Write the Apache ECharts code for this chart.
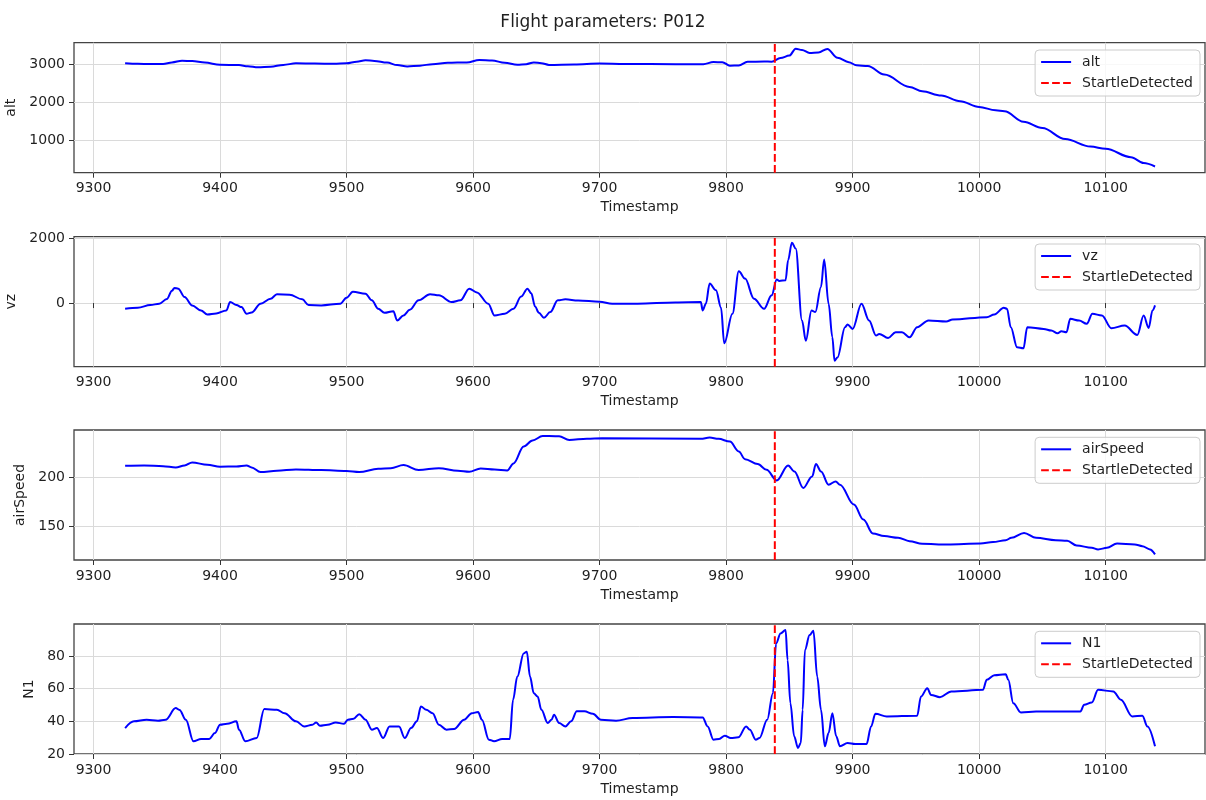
<!DOCTYPE html>
<html>
<head>
<meta charset="utf-8">
<title>Flight parameters: P012</title>
<script src="https://cdn.jsdelivr.net/npm/echarts@6/dist/echarts.min.js"></script>
<style>
  html, body { margin: 0; padding: 0; background: #ffffff; }
  #chart { width: 1206px; height: 800px; }
</style>
</head>
<body>
<div id="chart"></div>
<script>
// ---- recorded parameters (timestamp, value) ----
const altT = [9325, 9335, 9345, 9355, 9362, 9370, 9378, 9388, 9400, 9415, 9422, 9430, 9440, 9450, 9460, 9475, 9490, 9500, 9508, 9515, 9522, 9532, 9540, 9548, 9558, 9568, 9580, 9595, 9605, 9615, 9625, 9635, 9642, 9648, 9654, 9660, 9680, 9700, 9720, 9760, 9782, 9790, 9797, 9803, 9810, 9817, 9830, 9836, 9843, 9850, 9855, 9860, 9866, 9873, 9880, 9888, 9897, 9903, 9912, 9925, 9945, 9955, 9970, 9985, 10000, 10013, 10020, 10035, 10050, 10068, 10088, 10100, 10120, 10130, 10139];
const altV = [3020, 3005, 2998, 3000, 3040, 3085, 3075, 3035, 2980, 2970, 2940, 2912, 2925, 2975, 3015, 3010, 3005, 3015, 3060, 3095, 3080, 3035, 2970, 2935, 2955, 2995, 3030, 3040, 3105, 3090, 3030, 2980, 2995, 3040, 3020, 2975, 2985, 3010, 3000, 2995, 2995, 3050, 3045, 2955, 2960, 3055, 3065, 3060, 3155, 3220, 3400, 3365, 3290, 3300, 3395, 3165, 3045, 2965, 2945, 2720, 2395, 2280, 2170, 2020, 1870, 1780, 1755, 1480, 1315, 1025, 830, 770, 550, 395, 305];

const vzT = [9325, 9335, 9345, 9352, 9358, 9362, 9364, 9367, 9372, 9378, 9385, 9390, 9397, 9405, 9408, 9413, 9417, 9421, 9425, 9432, 9440, 9445, 9455, 9465, 9470, 9480, 9495, 9500, 9505, 9515, 9520, 9525, 9530, 9537, 9540, 9545, 9550, 9557, 9566, 9573, 9583, 9590, 9597, 9603, 9612, 9617, 9625, 9632, 9638, 9643, 9646, 9649, 9652, 9656, 9661, 9667, 9673, 9683, 9700, 9710, 9730, 9760, 9780, 9781.5, 9784, 9787, 9792, 9796, 9798.5, 9805, 9810, 9815, 9822, 9830, 9836, 9840, 9842, 9847, 9849, 9852, 9855, 9860, 9863, 9867.5, 9870.5, 9875, 9877.5, 9881, 9884, 9885.7, 9888, 9894, 9896, 9900, 9907, 9913, 9918.5, 9921, 9928, 9934, 9939, 9945, 9951, 9960, 9974, 9979, 10006, 10012, 10019.5, 10022, 10025, 10030, 10035, 10038, 10051, 10057, 10062, 10065, 10069, 10072, 10079, 10085, 10089.5, 10097, 10104.5, 10115, 10125, 10130, 10134, 10137, 10139];
const vzV = [-176, -145, -62, -20, 124, 380, 466, 445, 187, -72, -228, -352, -321, -228, 31, -60, -124, -330, -290, -20, 135, 270, 260, 114, -62, -72, -20, 166, 350, 290, 83, -176, -300, -250, -540, -383, -207, 83, 270, 238, 31, 83, 445, 330, -20, -383, -330, -176, 200, 445, 300, -103, -300, -456, -280, 83, 114, 80, 41, -20, -20, 20, 30, -228, -20, 601, 394, -145, -1244, -332, 984, 756, 135, -176, 238, 725, 684, 705, 1326, 1865, 1689, -539, -1161, -228, -280, 497, 1347, -21, -1057, -1782, -1679, -746, -663, -798, -21, -539, -1005, -953, -1078, -902, -902, -1057, -746, -539, -570, -508, -435, -352, -145, -176, -746, -1368, -1399, -746, -798, -850, -933, -870, -902, -487, -539, -642, -332, -383, -777, -694, -984, -383, -767, -228, -73];

const airT = [9325, 9340, 9355, 9365, 9372, 9378, 9390, 9400, 9413, 9421, 9425, 9432, 9445, 9460, 9480, 9500, 9510, 9525, 9535, 9545, 9557, 9573, 9588, 9597, 9606, 9617, 9627, 9632, 9640, 9647, 9655, 9665, 9668, 9676, 9690, 9702, 9780, 9787, 9794, 9803, 9810, 9815, 9825, 9832, 9840, 9849, 9854, 9861, 9868, 9871, 9875, 9881, 9886.6, 9890, 9901, 9908.5, 9916, 9925, 9936, 9945, 9955, 9975, 10001, 10011, 10021, 10025.5, 10035.5, 10045, 10060.5, 10069.6, 10077, 10089, 10094, 10101, 10109, 10123, 10129, 10135, 10139];
const airV = [211.5, 211.8, 211.1, 209.8, 211.8, 214.9, 212.5, 210.5, 210.8, 211.8, 209.8, 205.1, 206.4, 207.8, 207.1, 206.1, 205.1, 208.4, 209.1, 212.2, 207.1, 209.1, 206.4, 205.4, 208.8, 207.8, 206.8, 213.9, 231.1, 237.2, 241.9, 241.6, 241.5, 237.8, 239.0, 239.5, 238.9, 240.2, 238.9, 236.1, 226.0, 218.2, 213.2, 207.4, 196.6, 211.8, 205.7, 188.9, 200.7, 213.2, 205.7, 192.2, 195.6, 192.2, 172.0, 156.8, 142.6, 139.9, 138.2, 134.8, 132.1, 131.4, 132.4, 133.8, 135.8, 138.2, 143.2, 138.2, 135.8, 135.1, 130.4, 128.0, 126.4, 128.0, 132.4, 131.4, 129.7, 126.4, 121.3];

const n1T = [9325, 9332, 9342, 9351, 9357, 9365, 9368, 9373, 9379, 9385, 9391.5, 9396, 9400, 9405.6, 9413, 9415, 9420, 9429, 9435, 9445, 9451, 9460, 9466.6, 9473, 9476, 9479, 9485, 9491.5, 9498, 9501, 9505.6, 9510, 9515, 9520, 9524, 9529, 9534, 9541.5, 9546, 9551, 9555.6, 9558.8, 9563, 9568, 9573, 9579, 9585, 9593, 9599, 9604, 9607, 9612.5, 9616.6, 9623, 9629, 9631.6, 9635, 9640, 9642.5, 9645, 9648, 9651, 9654, 9659, 9662, 9664, 9668, 9673, 9677.5, 9682, 9688, 9694.7, 9701, 9713, 9726, 9758, 9781.5, 9785.4, 9790, 9794.5, 9799, 9803.6, 9809.7, 9815.8, 9818.8, 9823.4, 9826.4, 9832.5, 9837, 9839.5, 9843, 9847, 9848.6, 9850.8, 9853.8, 9856.8, 9859, 9860.5, 9862.3, 9866, 9869, 9872, 9875, 9878, 9881, 9884, 9887, 9890, 9896, 9902, 9911, 9914.6, 9918, 9927, 9951, 9954, 9959, 9962, 9969, 9978, 10003, 10006, 10012, 10021, 10023, 10027, 10033, 10045, 10080, 10083, 10089, 10094, 10106, 10112, 10121, 10129, 10133, 10139];
const n1V = [35.9, 40.0, 41.0, 40.4, 41.0, 48.1, 47.0, 41.0, 27.8, 29.2, 29.2, 32.8, 37.9, 38.5, 40.0, 34.9, 27.8, 29.8, 47.5, 47.1, 45.0, 40.0, 36.9, 37.9, 39.3, 37.3, 37.9, 39.3, 38.5, 41.0, 41.6, 44.4, 41.0, 34.9, 35.9, 29.8, 36.9, 36.9, 29.8, 35.9, 40.0, 49.1, 47.1, 45.0, 37.9, 34.9, 35.3, 41.0, 45.0, 45.7, 41.0, 28.8, 27.8, 29.2, 29.2, 53.2, 67.4, 81.6, 82.6, 67.4, 57.2, 55.2, 47.1, 39.0, 41.0, 44.0, 39.0, 36.9, 40.0, 46.1, 46.1, 44.6, 41.0, 40.4, 42.0, 42.6, 42.4, 36.9, 28.8, 29.2, 31.2, 29.8, 30.2, 36.9, 34.9, 28.8, 29.8, 41.0, 57.2, 87.7, 93.8, 95.9, 77.6, 51.1, 30.8, 23.7, 26.7, 47.1, 83.7, 92.8, 95.4, 67.4, 47.1, 24.7, 32.8, 45.0, 30.8, 24.7, 26.7, 26.1, 26.1, 36.9, 44.6, 43.0, 43.4, 55.2, 60.3, 56.2, 54.8, 58.3, 59.3, 65.4, 68.2, 68.8, 65.4, 51.1, 45.4, 46.0, 46.0, 50.1, 51.5, 59.3, 58.3, 53.2, 43.0, 43.4, 36.9, 24.7];

// moment the startle was detected
const startleTs = 9838.5;

// ---- panel names, axis limits and tick labels ----
const panelNames = ['alt', 'vz', 'airSpeed', 'N1'];
const xLimits = [9284.6, 10178.5];
const xTicks = [9300, 9400, 9500, 9600, 9700, 9800, 9900, 10000, 10100];
const yLimits = [[142, 3558], [-1966, 2050], [115.6, 247.9], [20, 99.6]];
const yTicks = [[1000, 2000, 3000], [0, 2000], [150, 200], [20, 40, 60, 80]];
const yIntervals = [1000, 2000, 50, 20];

const zip = (t, v) => t.map((x, i) => [x, v[i]]);
const panelData = [zip(altT, altV), zip(vzT, vzV), zip(airT, airV), zip(n1T, n1V)];

// ---- layout / style ----
const FONT = 'DejaVu Sans';
const TXT = '#1f1f1f';
const gridTops = [42.7, 236.7, 430, 624];
const gridH = 130;
const yNameGaps = [52, 52, 44, 30];

const grids = [], xAxes = [], yAxes = [], series = [], legends = [];

panelNames.forEach((name, i) => {
  grids.push({
    left: 74, right: 1, top: gridTops[i], height: gridH,
    show: true, borderColor: '#444444', borderWidth: 1.3,
    backgroundColor: 'transparent', containLabel: false,
    outerBoundsMode: 'none'
  });

  xAxes.push({
    type: 'value', gridIndex: i,
    min: xLimits[0], max: xLimits[1],
    splitNumber: 9, minInterval: 100, maxInterval: 100,
    name: 'Timestamp', nameLocation: 'middle', nameGap: 28,
    nameTextStyle: { fontSize: 14, color: TXT, fontFamily: FONT },
    axisLine: { show: false },
    axisTick: { show: true, length: 5, lineStyle: { color: '#333', width: 1 }, customValues: xTicks },
    axisLabel: {
      fontSize: 14, color: TXT, fontFamily: FONT, margin: 9,
      customValues: xTicks,
      formatter: v => String(v)
    },
    splitLine: { show: true, lineStyle: { color: '#dadada', width: 1 } }
  });

  yAxes.push({
    type: 'value', gridIndex: i,
    min: yLimits[i][0], max: yLimits[i][1],
    minInterval: yIntervals[i], maxInterval: yIntervals[i],
    name: name, nameLocation: 'middle', nameGap: yNameGaps[i], nameRotate: 90,
    nameTextStyle: { fontSize: 14, color: TXT, fontFamily: FONT },
    axisLine: { show: false },
    axisTick: { show: true, length: 5, lineStyle: { color: '#333', width: 1 }, customValues: yTicks[i] },
    axisLabel: {
      fontSize: 14, color: TXT, fontFamily: FONT, margin: 9,
      customValues: yTicks[i],
      formatter: v => String(v)
    },
    splitLine: { show: true, lineStyle: { color: '#dadada', width: 1 } }
  });

  series.push({
    name: name, type: 'line', xAxisIndex: i, yAxisIndex: i,
    data: panelData[i], symbol: 'none', showSymbol: false,
    smooth: 0.35, smoothMonotone: 'x',
    lineStyle: { color: '#0000ff', width: 2 },
    itemStyle: { color: '#0000ff' },
    animation: false, z: 2
  });

  series.push({
    name: 'StartleDetected', type: 'line', xAxisIndex: i, yAxisIndex: i,
    data: [[startleTs, yLimits[i][0]], [startleTs, yLimits[i][1]]],
    symbol: 'none', showSymbol: false,
    lineStyle: { color: '#ff0000', width: 2, type: [7.7, 3.3] },
    itemStyle: { color: '#ff0000' },
    animation: false, z: 3
  });

  legends.push({
    data: [name, 'StartleDetected'],
    orient: 'vertical', right: 6, top: gridTops[i] + 7.3,
    align: 'left', selectedMode: false,
    itemWidth: 30, itemHeight: 14, itemGap: 7,
    padding: [5, 7, 6, 5],
    backgroundColor: 'rgba(255,255,255,0.8)',
    borderColor: '#cccccc', borderWidth: 1, borderRadius: 4,
    itemStyle: { color: 'rgba(0,0,0,0)', borderWidth: 0, opacity: 0 },
    textStyle: { fontSize: 14, color: TXT, fontFamily: FONT, padding: [0, 0, 0, 6] }
  });
});

const chart = echarts.init(document.getElementById('chart'), null, { renderer: 'canvas' });
chart.setOption({
  backgroundColor: '#ffffff',
  animation: false,
  title: {
    text: 'Flight parameters: P012', left: 'center', top: 9,
    textStyle: { fontSize: 17, fontWeight: 'normal', color: TXT, fontFamily: FONT }
  },
  grid: grids, xAxis: xAxes, yAxis: yAxes, series: series, legend: legends
});
</script>
</body>
</html>
